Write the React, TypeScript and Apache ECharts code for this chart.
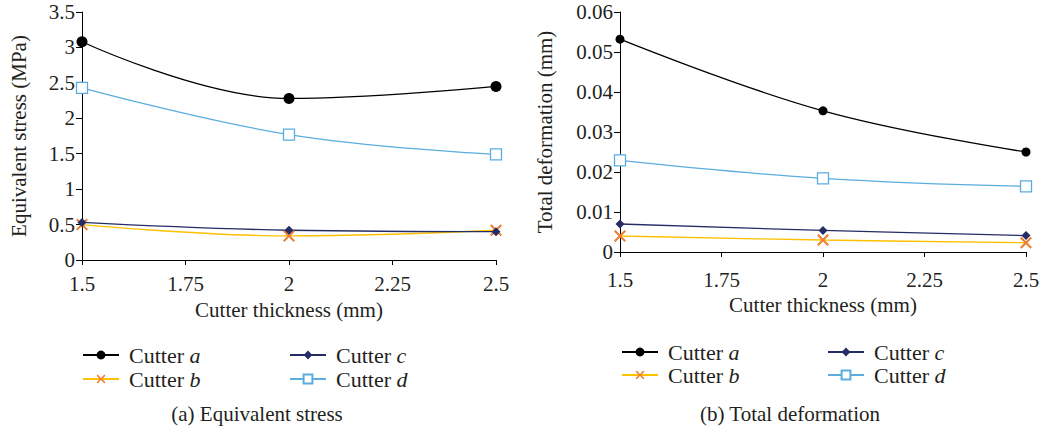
import React, { useEffect, useRef } from "react";
import * as echarts from "echarts";

const thickness = [1.5, 2, 2.5];

const stressA = [3.08, 2.28, 2.45];
const stressB = [0.5, 0.34, 0.42];
const stressC = [0.53, 0.42, 0.4];
const stressD = [2.43, 1.77, 1.49];

const deformA = [0.0532, 0.0353, 0.025];
const deformB = [0.004, 0.003, 0.0023];
const deformC = [0.007, 0.0054, 0.0041];
const deformD = [0.0229, 0.0184, 0.0164];

const seriesNames = ["Cutter a", "Cutter b", "Cutter c", "Cutter d"];

const FONT = "'Liberation Serif', 'DejaVu Serif', serif";
const TXT = "#231f20";
const FS = 21;

const X_SYMBOL =
  "path://M0,1.2L1.2,0L5,3.8L8.8,0L10,1.2L6.2,5L10,8.8L8.8,10L5,6.2L1.2,10L0,8.8L3.8,5Z";

const styles = [
  { line: "#000000", item: "#000000", symbol: "circle", size: 11, border: undefined },
  { line: "#FFC000", item: "#ED7D31", symbol: X_SYMBOL, size: 12, border: undefined },
  { line: "#262C66", item: "#262C66", symbol: "diamond", size: 9, border: undefined },
  { line: "#5BACDF", item: "#ffffff", symbol: "rect", size: 11, border: "#5BACDF" },
];

function makeSeries(values: number[][], idx: number) {
  return values.map((vals, i) => {
    const s = styles[i];
    return {
      name: seriesNames[i],
      type: "line",
      xAxisIndex: idx,
      yAxisIndex: idx,
      smooth: 0.4,
      symbol: s.symbol,
      symbolSize: idx === 1 && i === 0 ? 9 : s.size,
      data: vals.map((v, k) => [thickness[k], v]),
      lineStyle: { color: s.line, width: 1.3 },
      itemStyle: s.border
        ? { color: s.item, borderColor: s.border, borderWidth: 1.3 }
        : { color: s.item },
      z: i === 0 ? 5 : 3,
    };
  });
}

export default function App() {
  const ref = useRef<HTMLDivElement>(null);

  useEffect(() => {
    if (!ref.current) return;
    const chart = echarts.init(ref.current, undefined, { renderer: "svg" });

    const axisLabel = (margin: number) => ({
      fontFamily: FONT,
      fontSize: FS,
      color: TXT,
      margin,
    });
    const axisLine = { show: true, lineStyle: { color: "#000", width: 1 } };

    const xAxisBase = (gridIndex: number, labelMargin: number, nameGap: number) => ({
      type: "value",
      gridIndex,
      min: 1.5,
      max: 2.5,
      interval: 0.25,
      axisLine,
      axisTick: { show: true, length: 5, lineStyle: { color: "#000" } },
      splitLine: { show: false },
      axisLabel: {
        ...axisLabel(labelMargin),
        formatter: (v: number) => String(v),
      },
      name: "Cutter thickness (mm)",
      nameLocation: "middle",
      nameGap,
      nameTextStyle: { fontFamily: FONT, fontSize: FS, color: TXT },
    });

    const legendPos: [string, number, number][] = [
      ["Cutter a", 82, 344],
      ["Cutter c", 289, 344],
      ["Cutter b", 82, 368],
      ["Cutter d", 289, 368],
      ["Cutter a", 621, 341],
      ["Cutter c", 827, 341],
      ["Cutter b", 621, 364],
      ["Cutter d", 827, 364],
    ];

    const legends = legendPos.map(([name, left, top]) => ({
      data: [name],
      left,
      top,
      itemWidth: 36,
      itemHeight: 11,
      selectedMode: false,
      padding: 0,
      formatter: (n: string) => `Cutter {i|${n.slice(-1)}}`,
      textStyle: {
        fontFamily: FONT,
        fontSize: 22,
        color: TXT,
        padding: [0, 0, 0, 5],
        rich: {
          i: { fontFamily: FONT, fontSize: 22, fontStyle: "italic", color: TXT },
        },
      },
    }));

    const captionStyle = { fontFamily: FONT, fontSize: FS, fontWeight: "normal", color: TXT };

    chart.setOption({
      animation: false,
      backgroundColor: "#ffffff",
      textStyle: { fontFamily: FONT },
      title: [
        {
          text: "(a) Equivalent stress",
          left: 257,
          top: 403,
          textAlign: "center",
          padding: 0,
          textStyle: captionStyle,
        },
        {
          text: "(b) Total deformation",
          left: 790,
          top: 403,
          textAlign: "center",
          padding: 0,
          textStyle: captionStyle,
        },
      ],
      legend: legends,
      grid: [
        { left: 82, top: 12, width: 414, height: 248 },
        { left: 620, top: 12, width: 406, height: 240 },
      ],
      xAxis: [xAxisBase(0, 13, 39), xAxisBase(1, 17, 38)],
      yAxis: [
        {
          type: "value",
          gridIndex: 0,
          min: 0,
          max: 3.5,
          interval: 0.5,
          axisLine,
          axisTick: { show: true, length: 6, lineStyle: { color: "#000" } },
          splitLine: { show: false },
          axisLabel: axisLabel(7),
          name: "Equivalent stress (MPa)",
          nameLocation: "middle",
          nameRotate: 90,
          nameGap: 53,
          nameTextStyle: { fontFamily: FONT, fontSize: FS, color: TXT },
        },
        {
          type: "value",
          gridIndex: 1,
          min: 0,
          max: 0.06,
          interval: 0.01,
          axisLine,
          axisTick: { show: true, length: 6, lineStyle: { color: "#000" } },
          splitLine: { show: false },
          axisLabel: axisLabel(7),
          name: "Total deformation (mm)",
          nameLocation: "middle",
          nameRotate: 90,
          nameGap: 65,
          nameTextStyle: { fontFamily: FONT, fontSize: FS, color: TXT },
        },
      ],
      series: [
        ...makeSeries([stressA, stressB, stressC, stressD], 0),
        ...makeSeries([deformA, deformB, deformC, deformD], 1),
      ],
    });

    return () => chart.dispose();
  }, []);

  return (
    <div
      ref={ref}
      style={{
        position: "fixed",
        left: 0,
        top: 0,
        width: 1048,
        height: 432,
        background: "#fff",
      }}
    />
  );
}
